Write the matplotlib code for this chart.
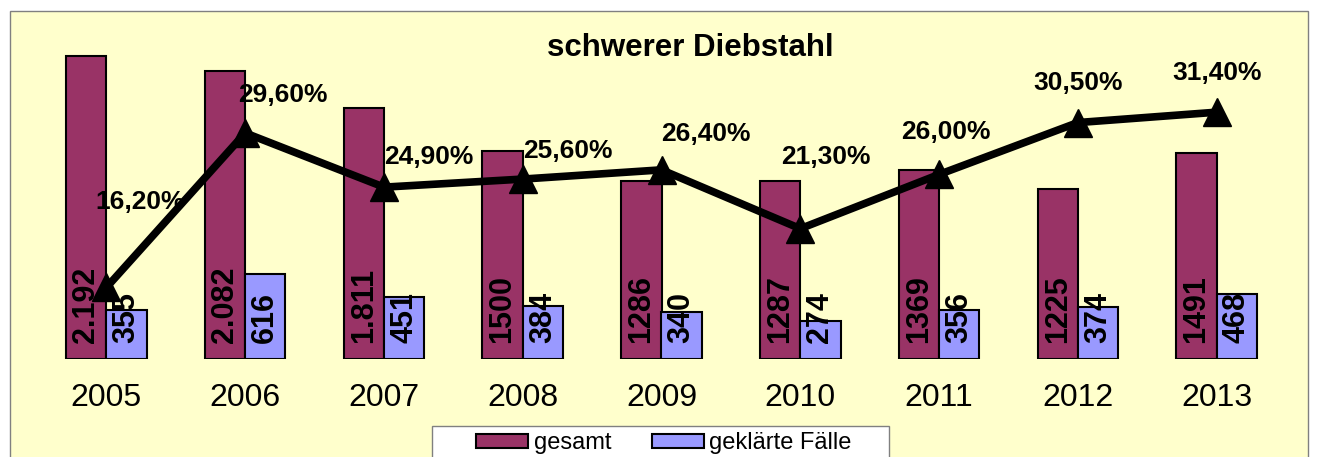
import numpy as np
import matplotlib
matplotlib.use("Agg")
import matplotlib.pyplot as plt
from matplotlib.patches import Rectangle, Patch

plt.rcParams['font.family'] = ['Liberation Sans', 'DejaVu Sans']

years = ['2005', '2006', '2007', '2008', '2009', '2010', '2011', '2012', '2013']
gesamt = [2192, 2082, 1811, 1500, 1286, 1287, 1369, 1225, 1491]
gesamt_labels = ['2.192', '2.082', '1.811', '1500', '1286', '1287', '1369', '1225', '1491']
geklaert = [355, 616, 451, 384, 340, 274, 356, 374, 468]
geklaert_labels = ['355', '616', '451', '384', '340', '274', '356', '374', '468']
quote = [16.2, 29.6, 24.9, 25.6, 26.4, 21.3, 26.0, 30.5, 31.4]
quote_labels = ['16,20%', '29,60%', '24,90%', '25,60%', '26,40%', '21,30%', '26,00%', '30,50%', '31,40%']
# label offsets in pixels (dx, dy) relative to the markers
label_offsets = [(34, 85), (38, 38), (45, 30), (45, 28), (44, 36), (26, 72), (7, 42), (0, 40), (0, 39)]

W, H = 1322, 457
fig = plt.figure(figsize=(W / 100, H / 100), dpi=100, facecolor='white')

# chart area background
fig.patches.append(Rectangle((10 / W, -0.05), 1298 / W, (H - 11) / H + 0.05,
                             transform=fig.transFigure, facecolor='#FFFFCC',
                             edgecolor='#808080', lw=1, zorder=-1))

left, right = 37 / W, 1286 / W
bottom, top = (H - 359) / H, (H - 13) / H
ax = fig.add_axes([left, bottom, right - left, top - bottom])
ax.patch.set_visible(False)
x = np.arange(len(years))
bw = 0.29
ax.bar(x - bw / 2, gesamt, bw, color='#993366', edgecolor='black', lw=1.5, label='gesamt')
ax.bar(x + bw / 2, geklaert, bw, color='#9999FF', edgecolor='black', lw=1.5, label='geklärte Fälle')
ax.set_xlim(-0.5, len(years) - 0.5)
ax.set_ylim(0, 2500)
ax.set_xticks(x, years, fontsize=23)
ax.tick_params(axis='x', length=0, pad=17)
ax.set_yticks([])
for s in ax.spines.values():
    s.set_visible(False)

for i in range(len(years)):
    ax.annotate(gesamt_labels[i], (x[i] - bw / 2, 0), xytext=(0, 16), textcoords='offset pixels',
                rotation=90, ha='center', va='bottom', fontsize=22, fontweight='bold')
    ax.annotate(geklaert_labels[i], (x[i] + bw / 2, 0), xytext=(0, 16), textcoords='offset pixels',
                rotation=90, ha='center', va='bottom', fontsize=22, fontweight='bold')

ax2 = ax.twinx()
ax2.patch.set_visible(False)
ax2.plot(x, quote, color='black', lw=5.5, marker='^', markersize=20, solid_joinstyle='miter')
ax2.set_ylim(10, 40)
ax2.set_yticks([])
for s in ax2.spines.values():
    s.set_visible(False)
for i in range(len(years)):
    dx, dy = label_offsets[i]
    ax2.annotate(quote_labels[i], (x[i], quote[i]), xytext=(dx, dy), textcoords='offset pixels',
                 ha='center', va='center', fontsize=19, fontweight='bold')

fig.text(690 / W, 1 - 48 / H, 'schwerer Diebstahl', ha='center', va='center',
         fontsize=22.5, fontweight='bold')

# legend
fig.patches.append(Rectangle((432 / W, -0.05), (889 - 432) / W, (H - 426) / H + 0.05,
                             transform=fig.transFigure, facecolor='white',
                             edgecolor='#808080', lw=1, zorder=4))
handles = [Patch(facecolor='#993366', edgecolor='black', lw=1.5),
           Patch(facecolor='#9999FF', edgecolor='black', lw=1.5)]
leg = fig.legend(handles, ['gesamt', 'geklärte Fälle'], loc='center',
                 bbox_to_anchor=(664 / W, 1 - 443 / H), ncol=2, frameon=False,
                 fontsize=17, handlelength=2.2, handleheight=0.55,
                 handletextpad=0.25, columnspacing=1.7, borderpad=0)
leg.set_zorder(5)

fig.savefig('out.png', dpi=100, facecolor='white')
